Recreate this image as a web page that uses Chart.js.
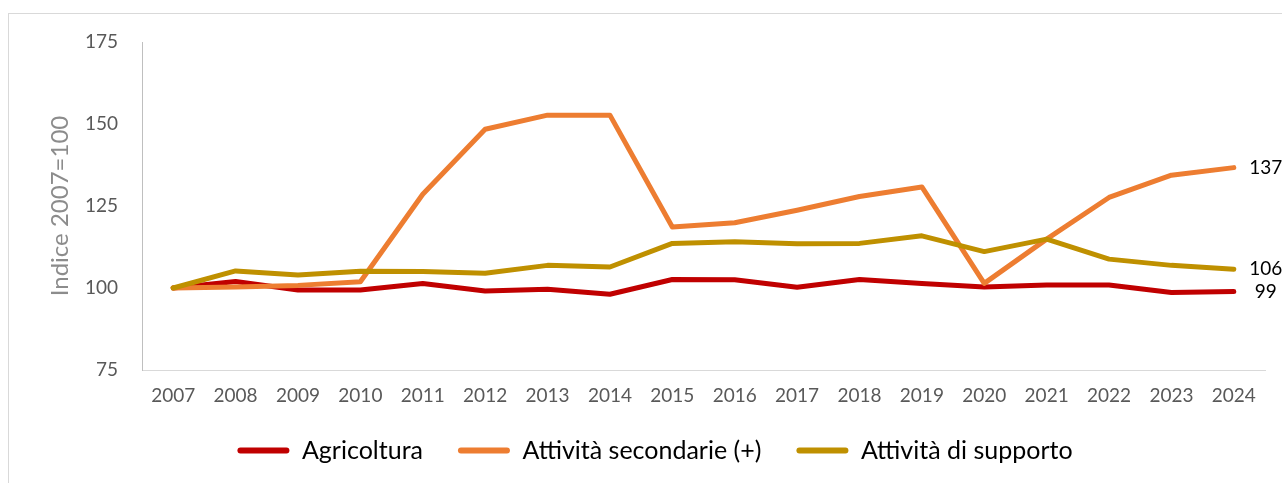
<!DOCTYPE html>
<html>
<head>
<meta charset="utf-8">
<script src="https://cdn.jsdelivr.net/npm/chart.js@4.4.1/dist/chart.umd.min.js"></script>
<style>
  html, body { margin: 0; padding: 0; background: #ffffff; overflow: hidden; width: 1282px; height: 483px; }
  #frame { position: absolute; left: 8px; top: 13px; width: 1300px; height: 600px; border: 1px solid #d9d9d9; box-sizing: border-box; }
  #c { position: absolute; left: 0; top: 0; }
</style>
</head>
<body>
<div id="frame"></div>
<canvas id="c" width="1302" height="483"></canvas>
<script>
const years = ['2007','2008','2009','2010','2011','2012','2013','2014','2015','2016','2017','2018','2019','2020','2021','2022','2023','2024'];
const agricoltura = [100, 102.0, 99.4, 99.4, 101.4, 99.1, 99.6, 98.1, 102.6, 102.5, 100.2, 102.6, 101.4, 100.3, 100.9, 100.9, 98.6, 98.9];
const secondarie = [100, 100.3, 100.8, 101.9, 128.6, 148.4, 152.7, 152.7, 118.6, 119.9, 123.7, 127.9, 130.8, 101.4, 114.9, 127.6, 134.4, 136.7];
const supporto = [100, 105.2, 104.0, 105.1, 105.0, 104.5, 106.9, 106.4, 113.6, 114.1, 113.5, 113.6, 115.9, 111.1, 114.9, 108.8, 106.9, 105.7];
const seriesNames = ['Agricoltura', 'Attività secondarie (+)', 'Attività di supporto'];
const yTicks = [75, 100, 125, 150, 175];
const yTitle = 'Indice 2007=100';

const FONT = 'Lato, "Open Sans", sans-serif';

const endLabels = {
  id: 'endLabels',
  afterDatasetsDraw(chart) {
    const ctx = chart.ctx;
    ctx.save();
    ctx.font = '19px ' + FONT;
    ctx.fillStyle = '#000000';
    ctx.textAlign = 'center';
    ctx.textBaseline = 'middle';
    chart.data.datasets.forEach((ds, i) => {
      const meta = chart.getDatasetMeta(i);
      const last = meta.data[meta.data.length - 1];
      const v = ds.data[ds.data.length - 1];
      ctx.fillText(String(Math.round(v)), last.x + 32, last.y);
    });
    ctx.restore();
  }
};

new Chart(document.getElementById('c'), {
  type: 'line',
  data: {
    labels: years,
    datasets: [
      { label: seriesNames[0], data: agricoltura, borderColor: '#C00000', backgroundColor: '#C00000', order: 2 },
      { label: seriesNames[1], data: secondarie, borderColor: '#ED7D31', backgroundColor: '#ED7D31', order: 1 },
      { label: seriesNames[2], data: supporto, borderColor: '#BF9000', backgroundColor: '#BF9000', order: 0 }
    ]
  },
  options: {
    responsive: false,
    animation: false,
    devicePixelRatio: 1,
    layout: { padding: { left: 45, top: 42, right: 37, bottom: 10 } },
    elements: {
      line: { borderWidth: 5, tension: 0, borderCapStyle: 'round', borderJoinStyle: 'round', fill: false },
      point: { radius: 0, hoverRadius: 0 }
    },
    plugins: {
      tooltip: { enabled: false },
      legend: {
        position: 'bottom',
        align: 'center',
        labels: {
          sort: (a, b) => a.datasetIndex - b.datasetIndex,
          boxWidth: 52,
          boxHeight: 6,
          useBorderRadius: true,
          borderRadius: 3,
          padding: 35,
          color: '#000000',
          font: { family: FONT, size: 25 },
          generateLabels(chart) {
            return chart.data.datasets.map((ds, i) => ({
              text: ds.label, fillStyle: ds.borderColor, strokeStyle: ds.borderColor,
              lineWidth: 0, datasetIndex: i, hidden: false, borderRadius: 3
            }));
          }
        }
      }
    },
    scales: {
      x: {
        offset: true,
        grid: { display: false, drawTicks: false },
        border: { display: true, color: '#d9d9d9', width: 1 },
        ticks: { color: '#595959', font: { family: FONT, size: 19 }, padding: 14, maxRotation: 0, autoSkip: false },
        afterFit(s) { s.height = 33; }
      },
      y: {
        min: 75, max: 175,
        afterBuildTicks(s) { s.ticks = yTicks.map(v => ({ value: v })); },
        grid: { display: false, drawTicks: false },
        border: { display: true, color: '#bfbfbf', width: 1 },
        ticks: { color: '#595959', font: { family: FONT, size: 19 }, padding: 24 },
        title: { display: true, text: yTitle, color: '#8c8c8c', font: { family: FONT, size: 24 }, padding: { top: 1, bottom: 0 } },
        afterFit(s) { s.width = 97; }
      }
    }
  },
  plugins: [endLabels]
});
</script>
</body>
</html>
